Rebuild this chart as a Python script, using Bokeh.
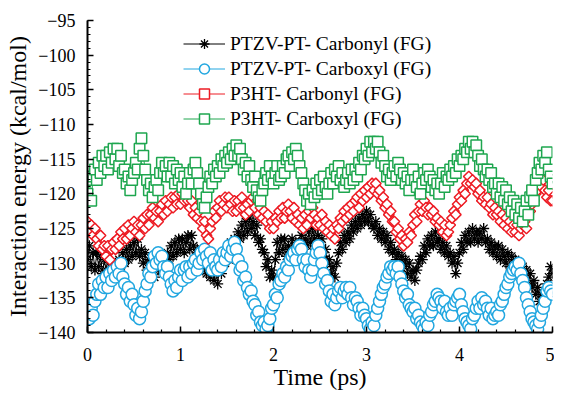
import math
from bokeh.plotting import figure
from bokeh.models import Range1d, FixedTicker, Legend, LegendItem
from bokeh.embed import file_html
from bokeh.resources import INLINE

# time axis (ps), sampled every 0.02 ps
time_ps = [round(i * 0.02, 2) for i in range(251)]

ptzv_carbonyl = [
    -129.5, -127.5, -130.5, -128.5, -131.0,
    -128.5, -130.5, -129.0, -131.5, -129.5,
    -131.0, -129.5, -132.0, -130.0, -131.5,
    -130.0, -131.5, -129.5, -130.5, -128.5,
    -130.0, -128.0, -129.5, -127.5, -129.0,
    -127.0, -128.5, -126.5, -129.0, -128.0,
    -130.0, -128.5, -131.0, -129.5, -131.5,
    -130.0, -132.0, -130.5, -131.0, -129.5,
    -131.0, -129.5, -130.0, -128.5, -129.5,
    -127.5, -129.0, -127.0, -128.5, -126.5,
    -128.0, -126.5, -128.5, -127.0, -126.0,
    -128.0, -126.0, -127.5, -129.0, -128.0,
    -130.0, -128.5, -131.0, -129.5, -131.5,
    -130.0, -132.0, -130.5, -132.5, -131.0,
    -133.0, -130.5, -131.5, -129.5, -130.0,
    -128.0, -129.5, -127.0, -128.5, -126.5,
    -127.5, -125.5, -126.5, -124.5, -126.0,
    -124.0, -125.5, -123.5, -125.0, -124.0,
    -126.0, -124.5, -127.0, -126.5, -128.0,
    -128.5, -130.5, -129.5, -132.0, -131.0,
    -132.0, -129.5, -127.0, -128.5, -126.5,
    -128.0, -126.5, -129.0, -127.5, -128.5,
    -126.5, -128.5, -127.0, -129.0, -127.5,
    -126.0, -128.0, -126.5, -127.5, -125.5,
    -127.0, -125.0, -126.5, -124.5, -126.0,
    -127.5, -126.5, -129.0, -128.0, -130.0,
    -129.5, -131.5, -130.5, -132.0, -130.0,
    -128.5, -127.0, -128.0, -126.0, -127.0,
    -125.5, -126.5, -124.5, -125.5, -124.0,
    -125.0, -123.5, -124.5, -123.0, -124.0,
    -122.5, -124.0, -123.0, -124.5, -125.0,
    -124.0, -126.0, -125.0, -126.5, -125.5,
    -127.0, -126.0, -128.0, -127.0, -128.5,
    -128.0, -129.5, -128.5, -130.0, -129.0,
    -130.5, -129.5, -131.5, -130.0, -132.0,
    -131.0, -132.5, -131.0, -130.0, -129.0,
    -129.5, -127.5, -128.5, -126.5, -127.5,
    -126.0, -127.5, -125.5, -127.0, -126.5,
    -128.0, -127.0, -128.5, -127.5, -129.0,
    -128.5, -130.0, -129.0, -131.5, -130.0,
    -128.5, -127.0, -128.0, -126.0, -127.0,
    -125.5, -127.0, -125.0, -126.5, -125.5,
    -127.0, -125.5, -126.5, -125.0, -127.0,
    -126.5, -128.0, -127.0, -128.5, -127.5,
    -129.0, -127.5, -129.5, -128.0, -129.0,
    -130.0, -128.5, -130.5, -129.0, -130.5,
    -129.5, -131.5, -130.0, -131.0, -130.5,
    -132.0, -131.0, -133.0, -131.5, -133.5,
    -132.5, -134.5, -133.5, -135.5, -134.5,
    -136.0, -134.5, -133.0, -132.0, -130.5,
    -131.5,
]

ptzv_carboxyl = [
    -137.0, -138.0, -136.5, -137.5, -135.5,
    -134.5, -133.0, -134.5, -132.5, -133.5,
    -132.0, -133.5, -131.5, -132.5, -131.0,
    -132.0, -130.5, -131.5, -130.0, -132.0,
    -133.0, -134.5, -133.5, -135.5, -134.5,
    -136.0, -137.5, -136.5, -138.0, -137.0,
    -135.5, -134.0, -133.0, -131.5, -132.0,
    -130.5, -129.0, -130.0, -128.5, -129.5,
    -129.0, -130.5, -131.5, -130.5, -132.0,
    -133.0, -134.0, -132.5, -133.5, -132.0,
    -131.0, -132.5, -131.0, -130.5, -132.0,
    -130.5, -131.5, -130.0, -129.5, -131.0,
    -130.0, -128.5, -129.5, -128.0, -129.0,
    -130.0, -128.5, -131.0, -129.5, -130.5,
    -131.0, -129.5, -130.5, -128.5, -129.5,
    -128.5, -127.5, -129.0, -128.0, -127.0,
    -128.0, -129.5, -131.0, -130.5, -132.5,
    -132.0, -133.5, -134.5, -134.0, -135.5,
    -136.0, -137.5, -137.0, -138.5, -139.0,
    -138.5, -139.5, -139.0, -138.0, -136.5,
    -136.0, -134.5, -135.0, -133.0, -132.5,
    -131.5, -132.0, -130.5, -131.0, -129.5,
    -129.0, -128.5, -129.5, -128.0, -127.5,
    -128.0, -129.5, -130.5, -129.5, -131.0,
    -132.0, -131.0, -129.5, -128.5, -127.5,
    -128.5, -130.0, -131.5, -133.0, -132.5,
    -134.0, -135.5, -134.5, -136.0, -135.0,
    -134.0, -133.5, -135.0, -134.0, -133.5,
    -134.5, -133.5, -135.0, -136.0, -135.0,
    -135.5, -136.5, -137.5, -136.5, -137.5,
    -138.0, -139.0, -139.5, -138.5, -139.0,
    -137.5, -136.5, -135.5, -134.5, -133.5,
    -133.0, -132.0, -131.5, -130.5, -131.0,
    -130.5, -131.5, -130.5, -132.0, -133.0,
    -134.0, -135.0, -134.5, -136.0, -136.5,
    -137.0, -136.5, -138.0, -137.5, -138.5,
    -139.0, -139.5, -138.5, -139.0, -137.5,
    -137.0, -136.0, -135.5, -134.5, -135.0,
    -135.5, -136.5, -135.5, -137.0, -137.5,
    -136.5, -137.5, -136.0, -135.5, -135.0,
    -134.5, -136.0, -137.0, -138.0, -138.5,
    -139.0, -139.5, -138.0, -137.5, -136.5,
    -135.5, -136.5, -135.0, -136.0, -135.5,
    -136.5, -137.5, -136.5, -138.0, -137.5,
    -137.0, -137.5, -136.0, -135.5, -134.5,
    -133.5, -133.0, -132.0, -131.5, -131.0,
    -130.5, -131.0, -130.0, -131.5, -132.5,
    -133.5, -135.0, -136.0, -137.0, -138.0,
    -138.5, -139.0, -139.5, -138.5, -137.5,
    -136.5, -135.5, -134.0, -133.5, -134.0,
    -134.5,
]

p3ht_carbonyl = [
    -124.0, -125.5, -124.5, -126.0, -125.0,
    -126.5, -127.5, -126.0, -128.0, -127.5,
    -129.0, -127.5, -129.5, -128.0, -127.0,
    -128.0, -126.5, -127.5, -125.5, -126.5,
    -125.0, -126.5, -124.5, -126.0, -125.0,
    -124.0, -125.5, -124.5, -126.0, -124.5,
    -123.5, -125.0, -123.0, -124.5, -123.0,
    -122.0, -123.5, -122.5, -124.0, -122.5,
    -121.5, -123.0, -121.0, -122.5, -121.5,
    -120.5, -122.0, -120.5, -121.5, -120.0,
    -121.5, -120.0, -121.0, -119.5, -121.0,
    -122.0, -121.0, -123.0, -122.0, -123.5,
    -122.5, -124.0, -125.0, -124.0, -126.0,
    -126.5, -125.0, -124.0, -122.5, -123.5,
    -122.0, -121.0, -122.5, -121.5, -120.5,
    -122.0, -120.5, -121.5, -122.5, -121.0,
    -122.5, -121.0, -122.0, -120.5, -122.0,
    -123.0, -121.5, -122.5, -121.0, -120.5,
    -122.0, -121.0, -123.0, -122.0, -123.5,
    -122.5, -124.0, -123.0, -125.0, -124.0,
    -125.0, -123.5, -124.0, -122.5, -123.5,
    -122.0, -123.5, -122.5, -121.5, -122.5,
    -123.5, -122.0, -124.0, -123.0, -124.5,
    -123.5, -125.0, -123.0, -124.5, -122.5,
    -123.5, -122.0, -123.0, -124.5, -123.5,
    -124.5, -123.0, -125.0, -124.0, -125.5,
    -124.5, -126.0, -125.0, -126.5, -124.5,
    -125.0, -123.5, -124.0, -122.5, -123.5,
    -122.0, -123.0, -121.5, -122.5, -121.0,
    -120.5, -122.0, -120.0, -121.0, -119.5,
    -120.5, -119.0, -120.0, -118.5, -119.5,
    -118.5, -120.0, -119.5, -121.0, -120.5,
    -122.0, -121.5, -123.0, -122.5, -124.0,
    -124.0, -125.5, -125.0, -126.5, -126.0,
    -127.5, -126.5, -127.0, -125.5, -126.0,
    -124.5, -123.0, -124.0, -122.5, -121.5,
    -122.5, -121.0, -122.0, -123.0, -122.0,
    -123.0, -122.5, -124.0, -123.5, -124.5,
    -124.0, -125.5, -124.5, -126.0, -125.5,
    -124.5, -123.5, -122.5, -123.0, -121.5,
    -120.5, -121.0, -119.5, -120.0, -118.5,
    -117.5, -118.5, -118.0, -119.0, -118.5,
    -120.0, -119.5, -121.0, -120.5, -121.5,
    -120.5, -122.0, -121.5, -123.0, -122.0,
    -123.0, -122.5, -124.0, -123.0, -124.5,
    -123.5, -125.0, -124.0, -125.5, -124.5,
    -125.5, -124.5, -126.0, -125.0, -124.5,
    -124.0, -125.0, -123.0, -122.5, -121.5,
    -121.0, -120.0, -119.5, -118.5, -119.0,
    -118.0, -119.5, -120.5, -119.5, -121.0,
    -121.0,
]

p3ht_carboxyl = [
    -120.0, -118.0, -121.0, -117.5, -116.5,
    -118.0, -115.5, -117.0, -114.5, -116.0,
    -114.5, -116.5, -114.0, -115.5, -113.5,
    -115.0, -113.5, -116.0, -114.5, -117.0,
    -116.5, -118.5, -117.5, -119.5, -118.0,
    -117.0, -115.5, -116.5, -113.5, -112.0,
    -114.5, -116.5, -118.0, -119.5, -118.5,
    -120.5, -119.0, -118.0, -119.5, -117.0,
    -115.5, -117.0, -116.0, -117.5, -115.5,
    -117.5, -116.0, -118.5, -116.5, -118.0,
    -117.0, -119.0, -117.5, -120.0, -118.5,
    -117.0, -118.5, -116.5, -115.5, -117.0,
    -118.5, -120.0, -121.5, -122.0, -120.5,
    -119.0, -117.5, -118.5, -116.5, -117.5,
    -116.0, -117.0, -115.0, -116.0, -114.5,
    -115.5, -114.0, -115.0, -113.5, -114.5,
    -113.0, -114.5, -113.5, -115.0, -116.5,
    -115.5, -117.5, -116.0, -118.0, -119.0,
    -117.5, -119.5, -120.5, -121.0, -119.5,
    -118.5, -117.0, -118.0, -116.0, -117.5,
    -118.5, -117.0, -116.0, -118.0, -117.5,
    -116.0, -117.0, -115.0, -114.5, -116.0,
    -114.0, -115.0, -113.5, -114.5, -116.0,
    -117.0, -118.5, -119.5, -121.0, -120.0,
    -121.5, -119.5, -120.5, -118.5, -120.0,
    -118.0, -119.5, -117.5, -119.0, -120.0,
    -118.5, -117.0, -118.5, -116.5, -117.5,
    -116.0, -118.0, -117.0, -119.0, -118.0,
    -117.0, -118.5, -116.5, -118.0, -116.5,
    -117.5, -115.5, -116.5, -114.5, -115.0,
    -113.5, -114.5, -112.5, -114.0, -112.5,
    -113.5, -112.5, -114.0, -115.5, -114.5,
    -116.0, -117.5, -116.5, -118.0, -117.0,
    -116.0, -117.5, -115.5, -116.5, -118.0,
    -117.0, -118.5, -117.5, -119.5, -118.0,
    -116.5, -118.0, -119.0, -117.5, -120.0,
    -118.5, -117.0, -118.0, -116.5, -117.5,
    -119.0, -118.0, -119.5, -118.5, -120.0,
    -118.5, -117.0, -119.0, -117.5, -118.0,
    -116.5, -117.5, -116.0, -117.0, -115.0,
    -116.0, -114.5, -115.0, -113.5, -114.0,
    -112.5, -113.5, -112.5, -114.0, -113.0,
    -114.5, -116.0, -115.0, -116.5, -117.5,
    -116.5, -118.0, -117.0, -119.0, -118.5,
    -120.0, -118.5, -120.5, -119.0, -121.0,
    -119.5, -121.5, -120.5, -122.5, -121.0,
    -123.0, -121.5, -123.5, -122.0, -124.0,
    -122.5, -121.0, -123.0, -120.5, -119.5,
    -121.0, -118.0, -117.0, -115.5, -116.5,
    -114.5, -115.5, -114.0, -116.5, -117.5,
    -118.5,
]

series_labels = [
    "PTZV-PT- Carbonyl (FG)",
    "PTZV-PT- Carboxyl (FG)",
    "P3HT- Carbonyl (FG)",
    "P3HT- Carboxyl (FG)",
]

x_ticks = [0, 1, 2, 3, 4, 5]
y_ticks = [-140, -135, -130, -125, -120, -115, -110, -105, -100, -95]

FONT = "Liberation Serif"

p = figure(width=554, height=393, output_backend="svg",
           toolbar_location=None,
           x_range=Range1d(0, 5), y_range=Range1d(-140, -95),
           min_border_left=87, min_border_right=2, min_border_top=20,
           min_border_bottom=61)
p.xgrid.visible = False
p.ygrid.visible = False
p.outline_line_color = None
p.background_fill_color = "white"
p.border_fill_color = "white"

BLUE = "#22A7E0"
RED = "#ED1C24"
GREEN = "#1EA64F"

r1l = p.line(time_ps, ptzv_carbonyl, line_color="black", line_width=1)
r1m = p.scatter(time_ps, ptzv_carbonyl, marker="asterisk", size=11,
                line_color="black", line_width=1.3)
r2l = p.line(time_ps, ptzv_carboxyl, line_color=BLUE, line_width=1)
r2m = p.scatter(time_ps, ptzv_carboxyl, marker="circle", size=12,
                line_color=BLUE, fill_color="white", line_width=1.5)
r3l = p.line(time_ps, p3ht_carbonyl, line_color=RED, line_width=1)
r3m = p.scatter(time_ps, p3ht_carbonyl, marker="square", size=7.5, angle=math.pi / 4,
                line_color=RED, fill_color="white", line_width=1.5)
r4l = p.line(time_ps, p3ht_carboxyl, line_color=GREEN, line_width=1)
r4m = p.scatter(time_ps, p3ht_carboxyl, marker="square", size=10.5,
                line_color=GREEN, fill_color="white", line_width=1.5)

legend = Legend(items=[
    LegendItem(label=series_labels[0], renderers=[r1l, r1m]),
    LegendItem(label=series_labels[1], renderers=[r2l, r2m]),
    LegendItem(label=series_labels[2], renderers=[r3l, r3m]),
    LegendItem(label=series_labels[3], renderers=[r4l, r4m]),
], location=(96, 201))
legend.label_text_font = FONT
legend.label_text_font_size = "19.5px"
legend.label_text_font_style = "normal"
legend.label_text_color = "black"
legend.glyph_width = 42
legend.glyph_height = 25
legend.label_height = 25
legend.label_standoff = 5
legend.spacing = 0
legend.padding = 0
legend.margin = 0
legend.border_line_color = None
legend.background_fill_alpha = 0
p.add_layout(legend, "center")

for ax in (p.xaxis[0], p.yaxis[0]):
    ax.axis_line_width = 2
    ax.axis_line_color = "black"
    ax.major_tick_line_width = 1.5
    ax.minor_tick_line_width = 1.2
    ax.major_tick_in = 6
    ax.major_tick_out = 0
    ax.minor_tick_in = 3
    ax.minor_tick_out = 0
    ax.major_label_text_font = FONT
    ax.major_label_text_font_size = "18px"
    ax.major_label_text_font_style = "normal"
    ax.major_label_text_color = "black"
    ax.axis_label_text_font = FONT
    ax.axis_label_text_font_size = "24px"
    ax.axis_label_text_font_style = "normal"
    ax.axis_label_text_color = "black"

p.xaxis[0].ticker = FixedTicker(ticks=x_ticks,
                                minor_ticks=[k / 5 for k in range(26)])
p.yaxis[0].ticker = FixedTicker(ticks=y_ticks, minor_ticks=list(range(-140, -94)))
p.xaxis[0].axis_label = "Time (ps)"
p.yaxis[0].axis_label = "Interaction energy (kcal/mol)"
p.xaxis[0].major_label_standoff = 15
p.yaxis[0].major_label_standoff = 12
p.xaxis[0].axis_label_standoff = 0
p.yaxis[0].axis_label_standoff = 4

open("out.html", "w").write(file_html(p, INLINE))
